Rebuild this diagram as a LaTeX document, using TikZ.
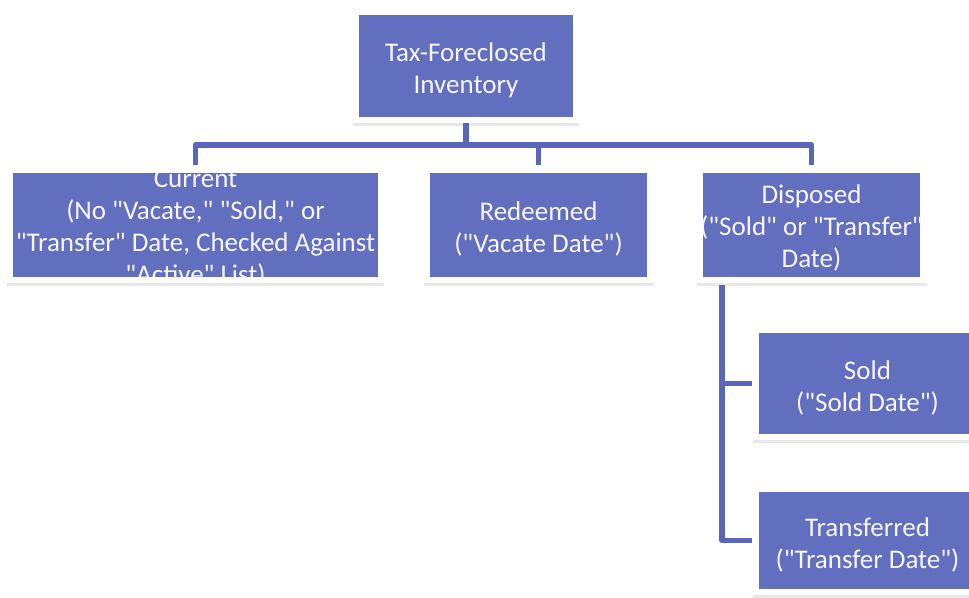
\documentclass[tikz,border=0pt]{standalone}
\usepackage{fontspec}
\setmainfont{Carlito}[Ligatures=TeXOff]
\definecolor{boxblue}{RGB}{98,110,190}
\definecolor{lineblue}{RGB}{90,102,184}
\definecolor{txtwhite}{RGB}{246,246,252}
\begin{document}
\begin{tikzpicture}[x=1pt,y=-1pt,
  box/.style={fill=boxblue, inner sep=0pt, outer sep=0pt, rectangle,
    preaction={draw=black!9, line width=12pt, transform canvas={yshift=-3pt}},
    preaction={draw=white, line width=12pt}},
  txt/.style={text=txtwhite, align=center, inner sep=0pt,
    font=\fontsize{27}{32}\selectfont},
  conn/.style={draw=lineblue, line width=5.5pt, line join=round}]
\useasboundingbox[fill=white] (0,0) rectangle (969,597);

% boxes
\node[box, minimum width=214pt, minimum height=102pt] (top) at (466,66) {};
\node[box, minimum width=365pt, minimum height=104pt] (cur) at (195.5,225) {};
\node[box, minimum width=217pt, minimum height=104pt] (red) at (538.5,225) {};
\node[box, minimum width=217pt, minimum height=104pt] (dis) at (811.5,225) {};
\node[box, minimum width=217pt, minimum height=101pt] (sold) at (867.5,383.5) {};
\node[box, minimum width=217pt, minimum height=97pt] (trans) at (867.5,540.5) {};

% texts (clipped to their boxes)
\node[txt] (toptxt) at ([yshift=-4pt]top.center) {Tax-Foreclosed\\Inventory};
\begin{scope}
  \clip (cur.south west) rectangle (cur.north east);
  \node[txt] (curtxt) at ([yshift=-4pt]cur.center) {Current\\(No "Vacate," "Sold," or\\"Transfer" Date, Checked Against\\"Active" List)};
\end{scope}
\node[txt] (redtxt) at ([yshift=-4pt]red.center) {Redeemed\\("Vacate Date")};
\begin{scope}
  \clip (dis.south west) rectangle (dis.north east);
  \node[txt] (distxt) at ([yshift=-3pt]dis.center) {Disposed\\("Sold" or "Transfer"\\Date)};
\end{scope}
\node[txt] (soldtxt) at ([yshift=-4pt]sold.center) {Sold\\("Sold Date")};
\node[txt] (transtxt) at ([yshift=-4pt]trans.center) {Transferred\\("Transfer Date")};

% connectors
\coordinate (bus) at (466,145);
\coordinate (spine) at (722,0);
\draw[conn] ([yshift=-6pt]top.south) -- (bus);
\draw[conn] ([yshift=8pt]cur.north) |- (bus -| dis.north) -- ([yshift=8pt]dis.north);
\draw[conn] (bus -| red.north) -- ([yshift=8pt]red.north);
\draw[conn] ([yshift=-8pt]dis.south -| spine) |- ([xshift=-7pt]trans.west);
\draw[conn] (spine |- sold.west) -- ([xshift=-7pt]sold.west);
\end{tikzpicture}
\end{document}
